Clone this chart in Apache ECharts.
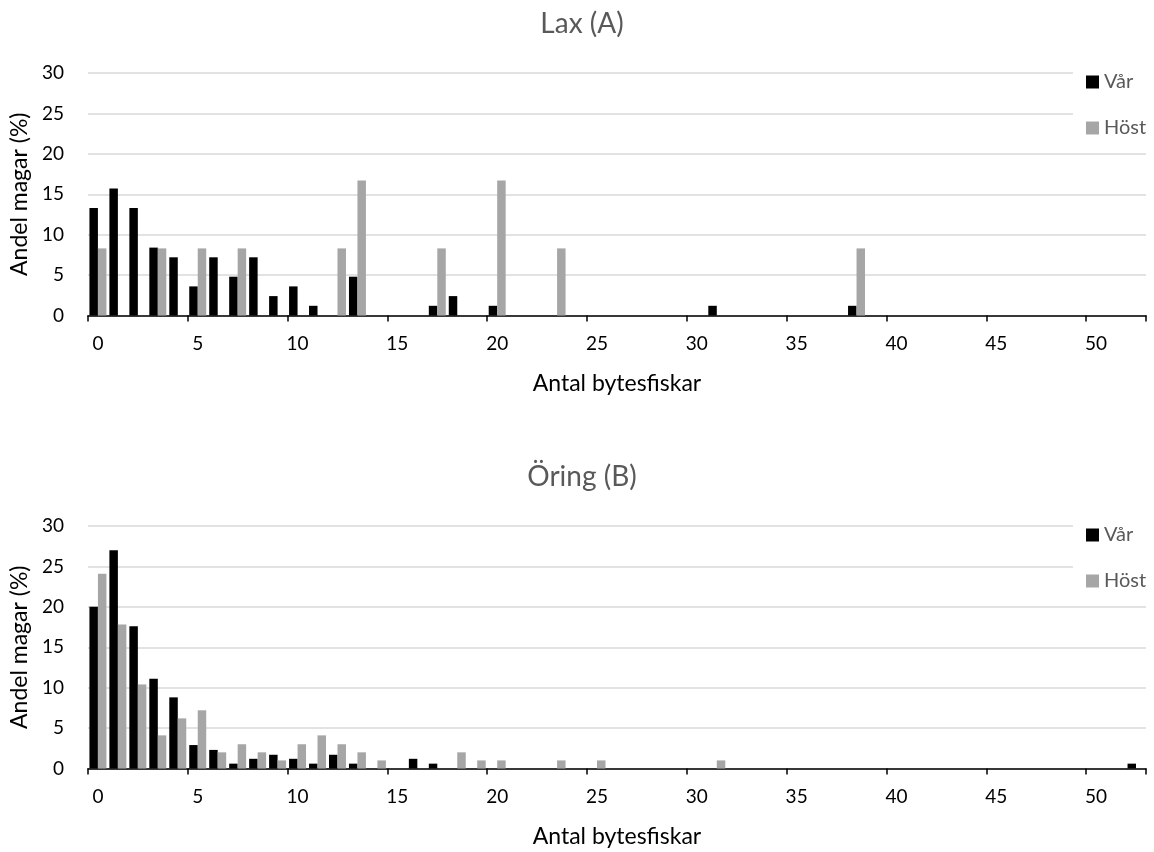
<!DOCTYPE html>
<html>
<head>
<meta charset="utf-8">
<script src="https://cdn.jsdelivr.net/npm/echarts@6/dist/echarts.min.js"></script>
<style>html,body{margin:0;padding:0;background:#fff}#c{width:1154px;height:852px}</style>
</head>
<body>
<div id="c"></div>
<script>
var categories = [];
for (var i = 0; i <= 52; i++) categories.push(String(i));

var titleA = 'Lax (A)';
var titleB = 'Öring (B)';
var xName = 'Antal bytesfiskar';
var yName = 'Andel magar (%)';
var seriesNames = ['Vår', 'Höst'];

// Lax (A)
var laxVar = [13.3,15.7,13.3,8.4,7.2,3.6,7.2,4.8,7.2,2.4,3.6,1.2,0,4.8,0,0,0,1.2,2.4,0,1.2,0,0,0,0,0,0,0,0,0,0,1.2,0,0,0,0,0,0,1.2,0,0,0,0,0,0,0,0,0,0,0,0,0,0];
var laxHost = [8.3,0,0,8.3,0,8.3,0,8.3,0,0,0,0,8.3,16.7,0,0,0,8.3,0,0,16.7,0,0,8.3,0,0,0,0,0,0,0,0,0,0,0,0,0,0,8.3,0,0,0,0,0,0,0,0,0,0,0,0,0,0];
// Öring (B)
var oringVar = [20.0,27.0,17.6,11.1,8.8,2.9,2.3,0.6,1.2,1.7,1.2,0.6,1.7,0.6,0,0,1.2,0.6,0,0,0,0,0,0,0,0,0,0,0,0,0,0,0,0,0,0,0,0,0,0,0,0,0,0,0,0,0,0,0,0,0,0,0.6];
var oringHost = [24.1,17.8,10.4,4.1,6.2,7.2,2.0,3.0,2.0,1.0,3.0,4.1,3.0,2.0,1.0,0,0,0,2.0,1.0,1.0,0,0,1.0,0,1.0,0,0,0,0,0,1.0,0,0,0,0,0,0,0,0,0,0,0,0,0,0,0,0,0,0,0,0,0];

var FONT = 'Lato';
var colVar = '#000000', colHost = '#a6a6a6';

function xAxis(gi) {
  return {
    type: 'category', gridIndex: gi, data: categories, boundaryGap: true,
    axisLine: {lineStyle: {color: '#000', width: 1.5}},
    axisTick: {show: true, interval: function (idx) { return idx % 5 === 0; }, length: 6, lineStyle: {color: '#000', width: 1.5}},
    axisLabel: {interval: function (idx) { return idx % 5 === 0; }, color: '#000', fontFamily: FONT, fontSize: 19, margin: 19},
    name: xName, nameLocation: 'middle', nameGap: 57,
    nameTextStyle: {color: '#000', fontFamily: FONT, fontSize: 23}
  };
}
function yAxis(gi) {
  return {
    type: 'value', gridIndex: gi, min: 0, max: 30, interval: 5,
    axisLine: {show: false}, axisTick: {show: false},
    splitLine: {lineStyle: {color: '#d9d9d9', width: 1.5}},
    axisLabel: {color: '#000', fontFamily: FONT, fontSize: 19, margin: 24},
    name: yName, nameLocation: 'middle', nameGap: 54, nameRotate: 90,
    nameTextStyle: {color: '#000', fontFamily: FONT, fontSize: 23}
  };
}
function bar(name, data, color, gi) {
  return {
    type: 'bar', name: name, data: data, xAxisIndex: gi, yAxisIndex: gi,
    itemStyle: {color: color}, barGap: '0%', barCategoryGap: '15%',
    emphasis: {disabled: true}, animation: false
  };
}
function legend(top) {
  return {
    orient: 'vertical', left: 1073, top: top, data: seriesNames,
    backgroundColor: '#fff', padding: [6, 10, 6, 13], itemGap: 26,
    itemWidth: 13, itemHeight: 13, itemTextGap: 6, icon: 'rect',
    textStyle: {color: '#595959', fontFamily: FONT, fontSize: 20, lineHeight: 20}
  };
}

var chart = echarts.init(document.getElementById('c'), null, {renderer: 'canvas'});
chart.setOption({
  animation: false,
  backgroundColor: '#fff',
  title: [
    {text: titleA, left: 577, top: 5, textAlign: 'center', textStyle: {color: '#595959', fontFamily: FONT, fontSize: 28, fontWeight: 'normal'}},
    {text: titleB, left: 577, top: 458, textAlign: 'center', textStyle: {color: '#595959', fontFamily: FONT, fontSize: 28, fontWeight: 'normal'}}
  ],
  legend: [legend(66), legend(519)],
  grid: [
    {left: 87, right: 8, top: 73, height: 242.5, containLabel: false},
    {left: 87, right: 8, top: 526, height: 242.5, containLabel: false}
  ],
  xAxis: [xAxis(0), xAxis(1)],
  yAxis: [yAxis(0), yAxis(1)],
  series: [
    bar(seriesNames[0], laxVar, colVar, 0),
    bar(seriesNames[1], laxHost, colHost, 0),
    bar(seriesNames[0], oringVar, colVar, 1),
    bar(seriesNames[1], oringHost, colHost, 1)
  ]
});
</script>
</body>
</html>
